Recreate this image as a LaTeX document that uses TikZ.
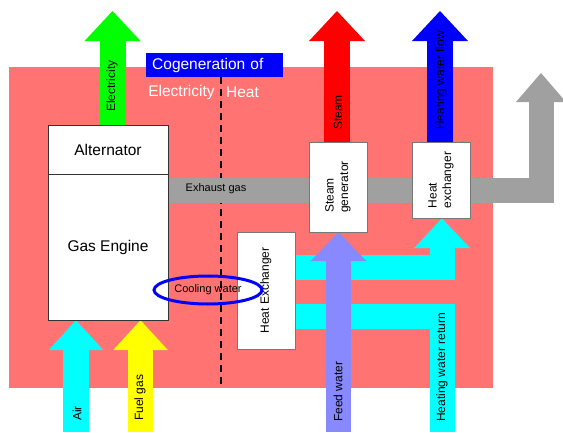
\documentclass[tikz,border=0pt]{standalone}
\usepackage{fontspec}
\setmainfont{Liberation Sans}
\usetikzlibrary{arrows.meta,shapes.geometric}

\definecolor{bgred}{RGB}{255,115,115}
\definecolor{exgray}{RGB}{160,160,160}
\definecolor{feedblue}{RGB}{136,136,255}
\definecolor{boxline}{RGB}{120,120,120}
\definecolor{aqua}{RGB}{0,255,255}
\definecolor{gasyellow}{RGB}{255,255,0}

\newcommand{\bigfont}{\fontsize{15.5}{18}\selectfont}
\newcommand{\midfont}{\fontsize{12}{14.5}\selectfont}
\newcommand{\smallfont}{\fontsize{11}{13}\selectfont}
\newcommand{\vtext}[1]{\rotatebox{90}{\begin{tabular}{@{}l@{}}#1\end{tabular}}}

\pgfdeclarelayer{bg}
\pgfdeclarelayer{flows}
\pgfsetlayers{bg,flows,main}

\begin{document}
\begin{tikzpicture}[x=1pt,y=-1pt,
  flow/.style={draw=#1, line width=26pt, -{Triangle[length=30pt,width=56pt,line width=0pt]}},
  pipe/.style={draw=#1, line width=25pt},
  unit/.style={draw=black!80, fill=white, rectangle, inner sep=0pt, font=\bigfont, minimum width=120pt},
  hxbox/.style={draw=boxline, fill=white, rectangle, inner sep=0pt, font=\midfont, minimum width=58pt},
  vlabel/.style={rotate=90, anchor=west, inner sep=0pt, font=\midfont}]
\useasboundingbox (0,0) rectangle (563,432);

% machines
\node[unit, minimum height=49pt]  (alt)    at (108,149.5) {Alternator};
\node[unit, minimum height=146pt] (engine) at (108,247)   {Gas Engine};
\node[hxbox, minimum height=90pt]  (sg)    at (338,187)   {\vtext{Steam\\generator}};
\node[hxbox, minimum height=76pt]  (hxtop) at (441,180)   {\vtext{Heat\\exchanger}};
\node[hxbox, minimum height=117pt] (hxlow) at (266,290.5) {\vtext{Heat Exchanger}};

% title
\node[fill=blue, text=white, font=\bigfont, anchor=west, text width=125pt,
      inner xsep=6pt, inner ysep=0pt, minimum height=24pt] (title) at (146,65) {Cogeneration of};
\node[text=white, font=\bigfont, inner sep=0pt] (elec) at (181.5,92) {Electricity};
\node[text=white, font=\bigfont, inner sep=0pt] (heat) at (242.5,92) {Heat};

% free ends of the flows
\coordinate (elecout)  at (112.5,11);
\coordinate (steamout) at (337,11);
\coordinate (hwfout)   at (440,11);
\coordinate (exout)    at (541,73);
\coordinate (airin)    at (76,432);
\coordinate (fuelin)   at (140.5,432);
\coordinate (feedin)   at (338.5,432);
\coordinate (hwrin)    at (442,432);
\coordinate (divtop)   at (221,77);
\coordinate (divbot)   at (221,388);

\begin{pgfonlayer}{bg}
\fill[bgred] (9,67) rectangle (493,388);
\draw[line width=2.5pt, dash pattern=on 7pt off 5pt] (divtop) -- (divbot);
\end{pgfonlayer}

\begin{pgfonlayer}{flows}
\draw[flow=exgray, line width=25pt, -{Triangle[length=29pt,width=50pt,line width=0pt]}]
  ([yshift=-16.5pt]engine.north east) -| (exout);
\draw[flow=green] (alt.north -| elecout) -- (elecout);
\draw[flow=red]   (sg.north -| steamout) -- (steamout);
\draw[flow=blue]  (hxtop.north -| hwfout) -- (hwfout);
\draw[flow=aqua, line width=25pt] ([yshift=-36pt]hxlow.north east) -| ([xshift=1pt]hxtop.south);
\draw[pipe=aqua] (hwrin) |- ([yshift=-84.5pt]hxlow.north east);
\draw[flow=feedblue, line width=25pt, -{Triangle[length=29pt,width=56pt,line width=0pt]}]
  (feedin) -- (sg.south -| feedin);
\draw[flow=aqua, -{Triangle[length=30pt,width=55pt,line width=0pt]}]
  (airin) -- (engine.south -| airin);
\draw[flow=gasyellow, line width=25pt, -{Triangle[length=30pt,width=55pt,line width=0pt]}]
  (fuelin) -- (engine.south -| fuelin);
\end{pgfonlayer}

% flow labels
\node[font=\smallfont] (exlabel) at (216,189) {Exhaust gas};
\node[vlabel] (eleclabel)  at (112,112) {Electricity};
\node[vlabel] (steamlabel) at (338,130) {Steam};
\node[vlabel] (hwflabel)   at (441,130) {Heating water flow};
\node[vlabel] (airlabel)   at (77,421)  {Air};
\node[vlabel] (fuellabel)  at (140,421) {Fuel gas};
\node[vlabel] (feedlabel)  at (338,422) {Feed water};
\node[vlabel] (hwrlabel)   at (442,422) {Heating water return};

\node[ellipse, draw=blue, line width=3pt, minimum width=108pt, minimum height=28pt,
      inner sep=0pt, font=\smallfont] (cool) at (208,290) {Cooling water};
\end{tikzpicture}
\end{document}
